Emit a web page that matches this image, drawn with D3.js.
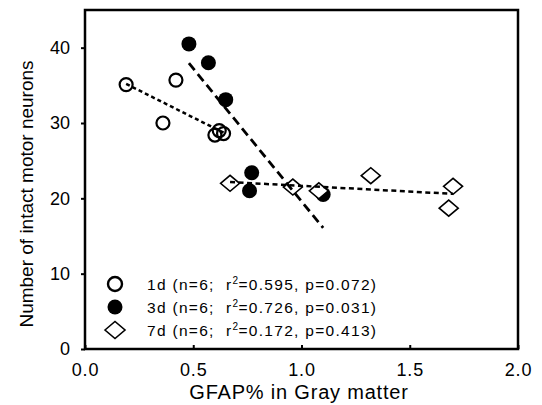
<!DOCTYPE html>
<html>
<head>
<meta charset="utf-8">
<script src="https://cdn.jsdelivr.net/npm/d3@7"></script>
<style>
  body { margin: 0; background: #fff; }
  svg, svg text { font-family: "Liberation Sans", Arial, sans-serif; }
  .leg text { white-space: pre; }
</style>
</head>
<body>
<svg id="chart" width="542" height="405"></svg>
<script>
// GFAP% (x) vs intact motor neurons (y)
var x1d = [0.19, 0.36, 0.42, 0.60, 0.62, 0.64];
var y1d = [35.1, 30.0, 35.7, 28.4, 29.0, 28.6];

var x3d = [0.48, 0.57, 0.65, 0.77, 0.76, 1.10];
var y3d = [40.5, 38.0, 33.1, 23.4, 21.0, 20.5];

var x7d = [0.67, 0.96, 1.08, 1.32, 1.70, 1.68];
var y7d = [22.0, 21.5, 21.0, 23.0, 21.6, 18.7];

var legendLabels = [
    ['1d (n=6;  r', '=0.595, p=0.072)'],
    ['3d (n=6;  r', '=0.726, p=0.031)'],
    ['7d (n=6;  r', '=0.172, p=0.413)']
];

var xTicks = [0, 0.5, 1.0, 1.5, 2.0];
var yTicks = [0, 10, 20, 30, 40];

var svg = d3.select('#chart');

var x = d3.scaleLinear().domain([0, 2]).range([85, 518]);
var y = d3.scaleLinear().domain([0, 45]).range([349, 10]);

// least squares fit, drawn from min x to max x
var fit = function(xs, ys) {
    var mx = d3.mean(xs), my = d3.mean(ys);
    var sxy = d3.sum(xs, function(v, i) { return (v - mx) * (ys[i] - my); });
    var sxx = d3.sum(xs, function(v) { return (v - mx) * (v - mx); });
    var b = sxy / sxx, a = my - b * mx;
    var lo = d3.min(xs), hi = d3.max(xs);
    return [[lo, a + b * lo], [hi, a + b * hi]];
};

var zip = function(xs, ys) {
    return xs.map(function(v, i) { return [v, ys[i]]; });
};

// frame
svg.append('rect')
    .attr('x', x(0)).attr('y', y(45))
    .attr('width', x(2) - x(0)).attr('height', y(0) - y(45))
    .attr('fill', 'none').attr('stroke', '#000').attr('stroke-width', 2.5);

// axes
var xAxis = svg.append('g')
    .attr('transform', 'translate(0,' + y(0) + ')')
    .call(d3.axisBottom(x).tickValues(xTicks).tickSize(-4).tickPadding(14)
        .tickFormat(d3.format('.1f')));
xAxis.select('.domain').remove();
xAxis.selectAll('line').attr('stroke-width', 2);
xAxis.selectAll('text').attr('font-size', 18).attr('font-family', 'Liberation Sans')
    .attr('letter-spacing', 0.8).attr('dy', '0.71em');

var yAxis = svg.append('g')
    .attr('transform', 'translate(' + x(0) + ',0)')
    .call(d3.axisLeft(y).tickValues(yTicks).tickSize(4).tickPadding(11));
yAxis.select('.domain').remove();
yAxis.selectAll('line').attr('stroke-width', 2);
yAxis.selectAll('text').attr('font-size', 18).attr('font-family', 'Liberation Sans');

// titles
svg.append('text')
    .attr('x', 299).attr('y', 399)
    .attr('text-anchor', 'middle').attr('font-size', 20).attr('letter-spacing', 0.8)
    .text('GFAP% in Gray matter');

svg.append('text')
    .attr('transform', 'translate(33,194) rotate(-90)')
    .attr('text-anchor', 'middle').attr('font-size', 19)
    .text('Number of intact motor neurons');

// markers
var diamond = function(cx, cy, w, h) {
    return 'M' + (cx - w) + ',' + cy + 'L' + cx + ',' + (cy - h) +
        'L' + (cx + w) + ',' + cy + 'L' + cx + ',' + (cy + h) + 'Z';
};

svg.append('g').selectAll('circle')
    .data(zip(x1d, y1d)).enter().append('circle')
    .attr('cx', function(d) { return x(d[0]); })
    .attr('cy', function(d) { return y(d[1]); })
    .attr('r', 6.5)
    .attr('fill', 'none').attr('stroke', '#000').attr('stroke-width', 2.2);

svg.append('g').selectAll('circle')
    .data(zip(x3d, y3d)).enter().append('circle')
    .attr('cx', function(d) { return x(d[0]); })
    .attr('cy', function(d) { return y(d[1]); })
    .attr('r', 7.5)
    .attr('fill', '#000');

svg.append('g').selectAll('path')
    .data(zip(x7d, y7d)).enter().append('path')
    .attr('d', function(d) { return diamond(x(d[0]), y(d[1]), 9.5, 8); })
    .attr('fill', '#fff').attr('stroke', '#000').attr('stroke-width', 1.6);

// regression lines
var line = d3.line()
    .x(function(d) { return x(d[0]); })
    .y(function(d) { return y(d[1]); });

svg.append('path').datum(fit(x1d, y1d)).attr('d', line)
    .attr('fill', 'none').attr('stroke', '#000').attr('stroke-width', 2.5)
    .attr('stroke-dasharray', '4,3');

svg.append('path').datum(fit(x3d, y3d)).attr('d', line)
    .attr('fill', 'none').attr('stroke', '#000').attr('stroke-width', 2.8)
    .attr('stroke-dasharray', '9,5');

svg.append('path').datum(fit(x7d, y7d)).attr('d', line)
    .attr('fill', 'none').attr('stroke', '#000').attr('stroke-width', 2.5)
    .attr('stroke-dasharray', '5,3.5');

// legend
var legend = svg.append('g').attr('class', 'leg');
var rowY = [284, 307, 330];

legend.append('circle').attr('cx', 115).attr('cy', rowY[0]).attr('r', 7)
    .attr('fill', 'none').attr('stroke', '#000').attr('stroke-width', 2.4);
legend.append('circle').attr('cx', 115).attr('cy', rowY[1]).attr('r', 7.5)
    .attr('fill', '#000');
legend.append('path').attr('d', diamond(115, rowY[2], 10, 8.5))
    .attr('fill', '#fff').attr('stroke', '#000').attr('stroke-width', 1.6);

legendLabels.forEach(function(lab, i) {
    var t = legend.append('text')
        .attr('x', 147).attr('y', rowY[i] + 5.5)
        .attr('font-size', 15.5).attr('letter-spacing', 1.3)
        .attr('font-family', 'Liberation Sans');
    t.append('tspan').text(lab[0]);
    t.append('tspan').attr('dy', -5.5).attr('font-size', 10).attr('letter-spacing', 0.5).text('2');
    t.append('tspan').attr('dy', 5.5).text(lab[1]);
});
</script>
</body>
</html>
